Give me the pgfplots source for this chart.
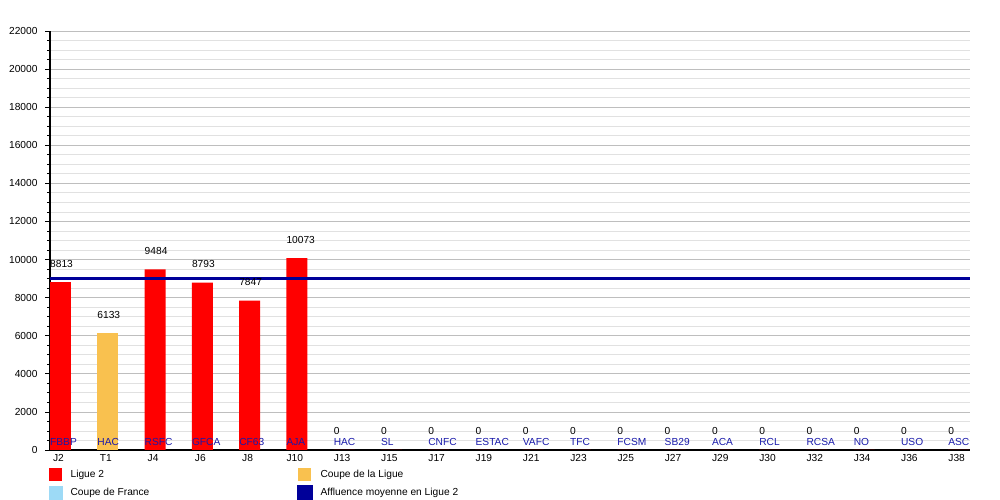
\documentclass[border=0pt]{standalone}
\usepackage{fontspec}
\setmainfont{Liberation Sans}
\usepackage{pgfplots}
\usepackage{pgfplotstable}
\pgfplotsset{compat=1.18}
\definecolor{l2red}{RGB}{255,0,0}
\definecolor{cdl}{RGB}{249,193,79}
\definecolor{cdf}{RGB}{157,218,246}
\definecolor{avg}{RGB}{0,0,153}
\definecolor{teamc}{RGB}{25,25,170}
\definecolor{majgrid}{RGB}{190,190,190}
\definecolor{mingrid}{RGB}{225,225,225}

\pgfplotstableread{
x y
0 8813
2 9484
3 8793
4 7847
5 10073
6 0
7 0
8 0
9 0
10 0
11 0
12 0
13 0
14 0
15 0
16 0
17 0
18 0
19 0
}\ligue

\pgfplotstableread{
x y
1 6133
}\cdltab

\pgfplotstableread{
x y team
0 0 FBBP
1 0 HAC
2 0 RSFC
3 0 GFCA
4 0 CF63
5 0 AJA
6 0 HAC
7 0 SL
8 0 CNFC
9 0 ESTAC
10 0 VAFC
11 0 TFC
12 0 FCSM
13 0 SB29
14 0 ACA
15 0 RCL
16 0 RCSA
17 0 NO
18 0 USO
19 0 ASC
}\teams

\begin{document}
\begin{tikzpicture}[x=1pt,y=1pt]
\path[use as bounding box] (0,0) rectangle (1000,500);
\begin{axis}[
  at={(50pt,50pt)}, anchor=south west,
  scale only axis, width=920pt, height=419pt,
  xmin=-0.222, xmax=19.24, ymin=0, ymax=22000,
  clip=false,
  font=\fontsize{10.2}{12}\selectfont,
  axis x line*=bottom, axis y line*=left,
  axis line style={-, black, line width=1.2pt},
  ytick={0,2000,...,22000},
  minor y tick num=3,
  ymajorgrids, yminorgrids,
  major grid style={majgrid, line width=0.8pt},
  minor grid style={mingrid, line width=0.8pt},
  tick align=outside,
  major tick length=5pt, minor tick length=3pt,
  ytick style={black, line width=0.8pt},
  xtick={0,...,19},
  xticklabels={J2,T1,J4,J6,J8,J10,J13,J15,J17,J19,J21,J23,J25,J27,J29,J30,J32,J34,J36,J38},
  xtick style={draw=none},
  xticklabel style={yshift=4pt, xshift=-2pt},
  yticklabel style={xshift=-4pt},
  scaled y ticks=false,
  /pgf/number format/1000 sep={},
  /pgf/number format/assume math mode=true,
  legend columns=2,
  legend cell align=left,
  legend style={at={(0,0)}, anchor=north west, xshift=-4pt, yshift=-16pt,
    draw=none, fill=none, row sep=3.5pt,
    nodes={inner sep=2pt},
    /tikz/every odd column/.append style={column sep=6pt}},
]
\addplot[ybar, bar width=0.444, bar shift=0pt, fill=l2red, draw=none,
  nodes near coords,
  nodes near coords style={anchor=base west, inner sep=0pt, xshift=-10.5pt, yshift=15pt, black, font=\fontsize{10.2}{12}\selectfont},
  legend image code/.code={\fill[l2red] (0pt,-6.5pt) rectangle (13pt,6.5pt);}]
  table[x=x,y=y]{\ligue};
\addlegendentry{\makebox[224pt][l]{Ligue 2}}
\addplot[ybar, bar width=0.444, bar shift=0pt, fill=cdl, draw=none,
  nodes near coords,
  nodes near coords style={anchor=base west, inner sep=0pt, xshift=-10.5pt, yshift=15pt, black, font=\fontsize{10.2}{12}\selectfont},
  legend image code/.code={\fill[cdl] (0pt,-6.5pt) rectangle (13pt,6.5pt);}]
  table[x=x,y=y]{\cdltab};
\addlegendentry{Coupe de la Ligue}
\addlegendimage{legend image code/.code={\fill[cdf] (0pt,-6.5pt) rectangle (13pt,6.5pt);}}
\addlegendentry{Coupe de France}
\addplot[draw=none, mark=none, forget plot,
  nodes near coords, point meta=explicit symbolic,
  nodes near coords style={anchor=base west, inner sep=0pt, xshift=-10.5pt, yshift=5pt, teamc, font=\fontsize{10.2}{12}\selectfont}]
  table[x=x,y=y,meta=team]{\teams};
\addplot[avg, line width=3pt, mark=none,
  legend image code/.code={\fill[avg] (0pt,-6.5pt) rectangle (13pt,6.5pt);}]
  coordinates {(-0.222,9002) (19.24,9002)};
\addlegendentry{Affluence moyenne en Ligue 2}
\end{axis}
\end{tikzpicture}
\end{document}
